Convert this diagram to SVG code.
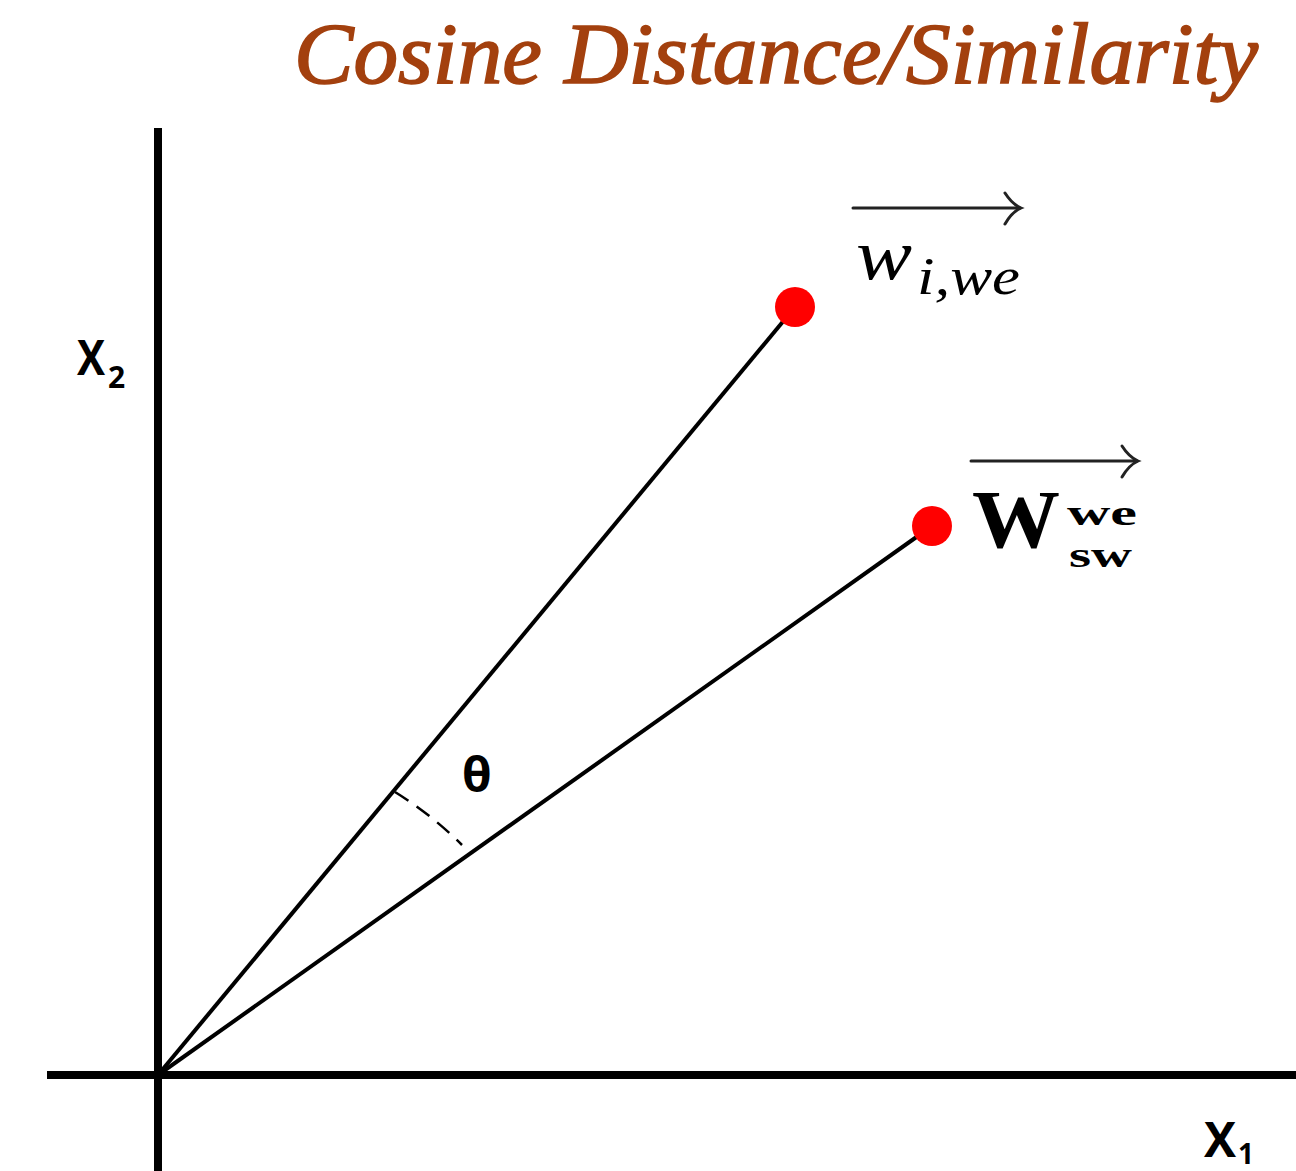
<svg xmlns="http://www.w3.org/2000/svg" width="1296" height="1171" viewBox="0 0 1296 1171">
<style>
.axis{stroke:#000;stroke-width:8;fill:none}
.vec{stroke:#000;stroke-width:4;fill:none}
.dot{fill:#f00}
.arr{stroke:#222;stroke-width:3;fill:none;stroke-linecap:round}
.math{font-family:"Liberation Serif","DejaVu Serif",serif;fill:#000}
.ax{font-family:"Open Sans","Liberation Sans",sans-serif;font-weight:bold;fill:#000}
.title{font-family:"Liberation Serif","DejaVu Serif",serif;font-style:italic;fill:#a3400e;stroke:#a3400e;stroke-width:1.6}
</style>
<rect width="1296" height="1171" fill="#fff"/>
<text id="title" class="title" x="294" y="83" font-size="86" textLength="964" lengthAdjust="spacingAndGlyphs">Cosine Distance/Similarity</text>
<g id="axes">
<line class="axis" x1="158" y1="128" x2="158" y2="1171"/>
<line class="axis" x1="47" y1="1075" x2="1296" y2="1075"/>
</g>
<g id="connectors">
<line class="vec" x1="158" y1="1075" x2="795" y2="307"/>
<line class="vec" x1="158" y1="1075" x2="932" y2="526"/>
<path d="M395,792 A375,375 0 0 1 462,845" stroke="#000" stroke-width="2.5" fill="none" stroke-dasharray="16,10"/>
</g>
<g id="node-w">
<circle class="dot" cx="795" cy="307" r="20"/>
<line class="arr" x1="853" y1="208" x2="1020" y2="208"/>
<path class="arr" d="M1005,193 Q1012,204 1021,208 Q1012,212 1005,224"/>
<text class="math" x="856" y="279" font-style="italic" font-size="72" textLength="56" lengthAdjust="spacingAndGlyphs">w</text>
<text class="math" x="917" y="294" font-style="italic" font-size="52" textLength="103" lengthAdjust="spacingAndGlyphs">i,we</text>
</g>
<g id="node-W">
<circle class="dot" cx="932" cy="526" r="20"/>
<line class="arr" x1="971" y1="461" x2="1137" y2="461"/>
<path class="arr" d="M1122,446 Q1129,457 1138,461 Q1129,465 1122,477"/>
<text class="math" x="972" y="547" font-weight="bold" font-size="82" textLength="88" lengthAdjust="spacingAndGlyphs">W</text>
<text class="math" x="1067" y="525" font-weight="bold" font-size="36" textLength="70" lengthAdjust="spacingAndGlyphs">we</text>
<text class="math" x="1069" y="567" font-weight="bold" font-size="36" textLength="63" lengthAdjust="spacingAndGlyphs">sw</text>
</g>
<g id="label-x2">
<text class="ax" x="77" y="375" font-size="48" textLength="28" lengthAdjust="spacingAndGlyphs">X</text>
<text class="ax" x="108" y="388" font-size="30" font-weight="normal">2</text>
</g>
<g id="label-x1">
<text class="ax" x="1204" y="1157" font-size="48" textLength="32" lengthAdjust="spacingAndGlyphs">X</text>
<text class="ax" x="1238" y="1164" font-size="28">1</text>
</g>
<g id="label-theta">
<text class="ax" x="462" y="792" font-size="48">θ</text>
</g>
</svg>
